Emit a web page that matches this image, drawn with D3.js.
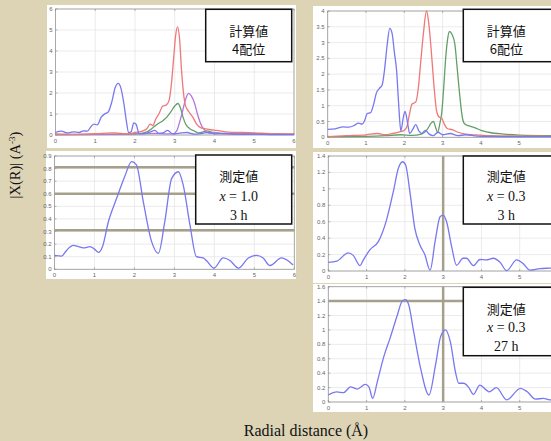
<!DOCTYPE html>
<html lang="ja">
<head>
<meta charset="utf-8">
<title>EXAFS radial distribution</title>
<script src="https://cdn.jsdelivr.net/npm/d3@7/dist/d3.min.js"></script>
<style>
  html, body { margin: 0; padding: 0; background: #ddd4b6; }
  svg { display: block; }
  .tick-label { font-family: "Liberation Sans", Arial, sans-serif; font-size: 6px; fill: #666; }
</style>
</head>
<body>
<svg id="chart" width="551" height="441"></svg>
<script>
// ---- data ----
const xTicks = [0, 1, 2, 3, 4, 5, 6];

// computed, 4-coordinate
const calc4Blue = [[0,0.12],[0.15,0.18],[0.3,0.1],[0.45,0.15],[0.6,0.12],[0.7,0.2],[0.8,0.18],[0.9,0.42],[0.97,0.52],[1.05,0.48],[1.15,0.85],[1.25,1.02],[1.32,1.08],[1.42,1.6],[1.5,2.25],[1.58,2.46],[1.65,2.2],[1.72,1.5],[1.78,0.7],[1.84,0.12],[1.9,0.15],[1.97,0.58],[2.03,0.5],[2.1,0.08],[2.2,0.05],[2.35,0.12],[2.5,0.22],[2.6,0.08],[2.7,0.1],[2.82,0.22],[2.95,0.05],[3.1,0.08],[3.3,0.12],[3.5,0.04],[3.7,0.08],[3.85,0.12],[4.0,0.05],[4.3,0.08],[4.6,0.03],[5,0.04],[5.5,0.02],[6,0.02]];
const calc4Red = [[0,0.05],[0.5,0.03],[1.0,0.06],[1.5,0.1],[1.8,0.05],[2.0,0.12],[2.2,0.2],[2.3,0.3],[2.38,0.52],[2.45,0.45],[2.52,0.75],[2.6,1.0],[2.7,1.38],[2.78,1.42],[2.85,1.6],[2.92,2.5],[2.97,3.6],[3.02,4.7],[3.07,5.15],[3.12,4.6],[3.17,3.1],[3.22,2.0],[3.27,1.4],[3.35,1.12],[3.45,0.86],[3.55,0.52],[3.65,0.35],[3.75,0.3],[3.9,0.25],[4.05,0.22],[4.35,0.14],[4.7,0.12],[5.0,0.1],[5.5,0.06],[6,0.05]];
const calc4Green = [[0,0.02],[1.5,0.03],[2.0,0.05],[2.3,0.15],[2.45,0.35],[2.55,0.5],[2.7,0.68],[2.8,0.85],[2.9,1.1],[3.0,1.38],[3.08,1.5],[3.15,1.25],[3.2,0.9],[3.28,0.5],[3.38,0.3],[3.5,0.18],[3.6,0.1],[3.72,0.15],[3.8,0.2],[3.95,0.12],[4.2,0.08],[5,0.05],[6,0.03]];
const calc4Purple = [[0,0.02],[1.0,0.03],[2.0,0.05],[2.5,0.08],[2.8,0.05],[2.95,0.05],[3.05,0.2],[3.12,0.6],[3.18,1.0],[3.25,1.55],[3.3,1.85],[3.35,1.98],[3.42,1.85],[3.5,1.5],[3.57,1.0],[3.64,0.6],[3.72,0.3],[3.82,0.12],[3.9,0.08],[4.0,0.12],[4.2,0.06],[5,0.04],[6,0.03]];

// computed, 6-coordinate
const calc6Blue = [[0,0.25],[0.2,0.27],[0.4,0.33],[0.55,0.32],[0.7,0.38],[0.8,0.45],[0.9,0.42],[0.97,0.55],[1.03,0.75],[1.12,0.78],[1.2,1.05],[1.27,1.4],[1.35,1.55],[1.42,1.65],[1.48,2.1],[1.55,2.9],[1.62,3.45],[1.68,3.3],[1.74,2.7],[1.8,2.1],[1.85,1.1],[1.91,0.2],[1.97,0.6],[2.02,0.82],[2.08,0.5],[2.14,0.12],[2.22,0.25],[2.3,0.4],[2.38,0.2],[2.45,0.12],[2.55,0.22],[2.65,0.1],[2.75,0.05],[2.88,0.16],[3.0,0.08],[3.2,0.12],[3.4,0.05],[3.6,0.08],[3.9,0.04],[4.3,0.03],[5,0.02],[6,0.02]];
const calc6Red = [[0,0.02],[0.5,0.05],[1.0,0.08],[1.3,0.12],[1.5,0.08],[1.7,0.12],[1.9,0.18],[2.0,0.22],[2.07,0.35],[2.13,0.7],[2.2,1.05],[2.3,1.12],[2.37,1.6],[2.43,2.4],[2.5,3.3],[2.58,4.0],[2.64,3.6],[2.7,2.8],[2.77,1.7],[2.84,0.85],[2.9,0.65],[2.98,0.6],[3.05,0.4],[3.12,0.28],[3.25,0.24],[3.4,0.16],[3.6,0.1],[3.8,0.08],[4.2,0.05],[5,0.04],[6,0.03]];
const calc6Green = [[0,0.02],[1,0.03],[1.5,0.05],[1.9,0.08],[2.2,0.06],[2.45,0.1],[2.6,0.25],[2.7,0.45],[2.76,0.5],[2.82,0.3],[2.87,0.15],[2.93,0.45],[2.98,0.8],[3.03,1.6],[3.08,2.5],[3.13,3.1],[3.18,3.35],[3.25,3.25],[3.32,2.95],[3.38,2.2],[3.45,1.3],[3.52,0.6],[3.58,0.42],[3.7,0.36],[3.85,0.3],[4.0,0.22],[4.2,0.16],[4.6,0.1],[5,0.07],[6,0.05]];

// measured
const meas10h3 = [[0,0.11],[0.18,0.105],[0.3,0.15],[0.47,0.19],[0.6,0.18],[0.72,0.17],[0.89,0.18],[1.0,0.16],[1.1,0.135],[1.2,0.18],[1.35,0.38],[1.55,0.56],[1.76,0.74],[1.93,0.855],[2.05,0.83],[2.22,0.54],[2.43,0.22],[2.6,0.127],[2.76,0.38],[2.93,0.72],[3.1,0.775],[3.22,0.67],[3.39,0.35],[3.55,0.1],[3.72,0.09],[3.8,0.07],[3.99,0.01],[4.22,0.09],[4.39,0.07],[4.6,0.01],[4.85,0.09],[5.05,0.11],[5.22,0.09],[5.39,0.03],[5.68,0.09],[5.97,0.035]];
const meas03h3 = [[0,0.105],[0.22,0.12],[0.52,0.22],[0.65,0.19],[0.83,0.065],[0.91,0.13],[1.09,0.26],[1.31,0.36],[1.52,0.62],[1.7,0.97],[1.83,1.25],[1.94,1.33],[2.02,1.29],[2.13,0.97],[2.26,0.52],[2.39,0.32],[2.52,0.2],[2.66,0.01],[2.79,0.36],[2.92,0.66],[3.0,0.68],[3.09,0.6],[3.22,0.3],[3.35,0.07],[3.52,0.155],[3.61,0.155],[3.79,0.065],[3.96,0.14],[4.13,0.135],[4.31,0.155],[4.48,0.11],[4.66,0.005],[4.92,0.135],[5.09,0.09],[5.27,0.01],[5.53,0.03],[5.79,0.035],[6,0.04]];
const meas03h27 = [[0,0.097],[0.22,0.14],[0.4,0.13],[0.58,0.21],[0.75,0.18],[0.97,0.245],[1.06,0.21],[1.16,0.05],[1.28,0.28],[1.45,0.63],[1.61,0.88],[1.8,1.2],[1.93,1.4],[2.01,1.42],[2.1,1.35],[2.23,0.975],[2.41,0.47],[2.63,0.097],[2.8,0.51],[2.93,0.9],[3.06,1.0],[3.19,0.83],[3.32,0.42],[3.41,0.26],[3.54,0.26],[3.67,0.2],[3.79,0.107],[3.96,0.235],[4.13,0.165],[4.2,0.14],[4.39,0.2],[4.66,0.03],[5.02,0.19],[5.19,0.145],[5.41,0.04],[5.62,0.05],[5.79,0.03],[6,0.04]];

const yTicks4 = [0, 1, 2, 3, 4, 5, 6];
const yTicks6 = [0, 0.5, 1, 1.5, 2, 2.5, 3, 3.5, 4];
const yTicksM10 = [0, 0.1, 0.2, 0.3, 0.4, 0.5, 0.6, 0.7, 0.8, 0.9];
const yTicksM03a = [0, 0.2, 0.4, 0.6, 0.8, 1, 1.2, 1.4];
const yTicksM03b = [0, 0.2, 0.4, 0.6, 0.8, 1, 1.2, 1.4, 1.6];

const labels4 = ["計算値", "4配位"];
const labels6 = ["計算値", "6配位"];
const labelsM10 = ["測定値", "x = 1.0", "3 h"];
const labelsM03a = ["測定値", "x = 0.3", "3 h"];
const labelsM03b = ["測定値", "x = 0.3", "27 h"];

const refH_M10 = [0.81, 0.6, 0.31];
const refH_M03b = [1.4];
const refV_M03 = [3];

// ---- colours ----
const cBlue = "#7878f0", cRed = "#ef7878", cGreen = "#63a065", cPurple = "#b278dc";

// ---- panels ----
const panels = [
  { fig: [47, 5, 249, 143], plot: [55.5, 9, 294, 135], yMax: 6, yTicks: yTicks4,
    series: [[calc4Green, cGreen], [calc4Purple, cPurple], [calc4Red, cRed], [calc4Blue, cBlue]],
    box: [205.7, 9.3, 86, 52.4], labels: labels4, lineY: [35.5, 53.5], sans: true },
  { fig: [313, 6, 250, 142], plot: [327.7, 11, 557.5, 137.3], yMax: 4, yTicks: yTicks6,
    series: [[calc6Green, cGreen], [calc6Red, cRed], [calc6Blue, cBlue]],
    box: [463.3, 9.3, 92, 52.4], labels: labels6, lineY: [35.5, 53.5], sans: true },
  { fig: [46, 151, 250, 128], plot: [54.5, 156, 294.3, 269.3], yMax: 0.9, yTicks: yTicksM10,
    series: [[meas10h3, cBlue]], refH: refH_M10,
    box: [195.7, 155, 96, 69], labels: labelsM10, lineY: [181, 200.5, 220] },
  { fig: [313, 152, 250, 131], plot: [328.3, 156, 558, 271], yMax: 1.4, yTicks: yTicksM03a,
    series: [[meas03h3, cBlue]], refV: refV_M03,
    box: [463.3, 156, 92, 68], labels: labelsM03a, lineY: [181, 201, 220] },
  { fig: [313, 284, 250, 128], plot: [328.3, 286.7, 558, 402], yMax: 1.6, yTicks: yTicksM03b,
    series: [[meas03h27, cBlue]], refV: refV_M03, refH: refH_M03b,
    box: [463.3, 287.3, 92, 68.4], labels: labelsM03b, lineY: [313.5, 331.5, 351] }
];

const svg = d3.select("#chart");
const W = +svg.attr("width");

panels.forEach(p => {
  const g = svg.append("g");
  const [x0, y0, x1, y1] = p.plot;
  const x = d3.scaleLinear().domain([0, 6]).range([x0, x1]);
  const y = d3.scaleLinear().domain([0, p.yMax]).range([y1, y0]);

  g.append("rect")
    .attr("x", p.fig[0]).attr("y", p.fig[1])
    .attr("width", p.fig[2]).attr("height", p.fig[3])
    .attr("fill", "#fff");

  // grid
  g.selectAll(".gx").data(xTicks).enter().append("line")
    .attr("x1", d => x(d)).attr("x2", d => x(d))
    .attr("y1", y0).attr("y2", y1)
    .attr("stroke", "#e2e2e2").attr("stroke-width", 0.7);
  g.selectAll(".gy").data(p.yTicks).enter().append("line")
    .attr("x1", x0).attr("x2", x1)
    .attr("y1", d => y(d)).attr("y2", d => y(d))
    .attr("stroke", "#e2e2e2").attr("stroke-width", 0.7);

  // frame
  g.append("rect")
    .attr("x", x0).attr("y", y0)
    .attr("width", x1 - x0).attr("height", y1 - y0)
    .attr("fill", "none").attr("stroke", "#9a9a9a").attr("stroke-width", 0.8);

  // tick marks
  g.selectAll(".tx").data(xTicks).enter().append("line")
    .attr("x1", d => x(d)).attr("x2", d => x(d))
    .attr("y1", y1).attr("y2", y1 - 2)
    .attr("stroke", "#888").attr("stroke-width", 0.6);
  g.selectAll(".tx2").data(xTicks).enter().append("line")
    .attr("x1", d => x(d)).attr("x2", d => x(d))
    .attr("y1", y0).attr("y2", y0 + 2)
    .attr("stroke", "#888").attr("stroke-width", 0.6);
  g.selectAll(".ty").data(p.yTicks).enter().append("line")
    .attr("x1", x0).attr("x2", x0 + 2)
    .attr("y1", d => y(d)).attr("y2", d => y(d))
    .attr("stroke", "#888").attr("stroke-width", 0.6);

  // tick labels (those past the window edge are not shown, as in the original)
  g.selectAll(".lx").data(xTicks.filter(d => x(d) < W - 4)).enter().append("text")
    .attr("class", "tick-label")
    .attr("x", d => x(d)).attr("y", y1 + 8)
    .attr("text-anchor", "middle")
    .text(d => d);
  g.selectAll(".ly").data(p.yTicks).enter().append("text")
    .attr("class", "tick-label")
    .attr("x", x0 - 3).attr("y", d => y(d) + 2)
    .attr("text-anchor", "end")
    .text(d => d3.format("~g")(d));

  // reference lines
  (p.refH || []).forEach(v => {
    g.append("line")
      .attr("x1", x0).attr("x2", x1)
      .attr("y1", y(v)).attr("y2", y(v))
      .attr("stroke", "#a59f8c").attr("stroke-width", 2.5);
  });
  (p.refV || []).forEach(v => {
    g.append("line")
      .attr("x1", x(v)).attr("x2", x(v))
      .attr("y1", y0).attr("y2", y1)
      .attr("stroke", "#a59f8c").attr("stroke-width", 2.5);
  });

  // curves
  const line = d3.line()
    .x(d => x(d[0])).y(d => y(d[1]))
    .curve(d3.curveMonotoneX);
  p.series.forEach(([data, col]) => {
    g.append("path")
      .attr("d", line(data))
      .attr("fill", "none")
      .attr("stroke", col)
      .attr("stroke-width", 1.3);
  });

  // label box
  const [bx, by, bw, bh] = p.box;
  g.append("rect")
    .attr("x", bx).attr("y", by).attr("width", bw).attr("height", bh)
    .attr("fill", "#fff").attr("stroke", "#111").attr("stroke-width", 1.5);
  const cx = bx + 43;
  p.labels.forEach((t, i) => {
    const tx = g.append("text")
      .attr("x", cx).attr("y", p.lineY[i])
      .attr("text-anchor", "middle")
      .attr("fill", "#111");
    if (p.sans) {
      tx.attr("font-family", "'Noto Sans CJK JP', sans-serif").attr("font-size", 13).text(t);
    } else if (i === 0) {
      tx.attr("font-family", "'Noto Sans CJK JP', serif").attr("font-size", 13).text(t);
    } else if (t.startsWith("x")) {
      tx.attr("font-family", "'Liberation Serif', serif").attr("font-size", 14);
      tx.append("tspan").attr("font-style", "italic").text("x");
      tx.append("tspan").text(t.slice(1));
    } else {
      tx.attr("font-family", "'Liberation Serif', serif").attr("font-size", 14).text(t);
    }
  });
});

// axis titles
svg.append("text")
  .attr("x", 306).attr("y", 436)
  .attr("text-anchor", "middle")
  .attr("font-family", "'Liberation Serif', serif")
  .attr("font-size", 16)
  .attr("fill", "#111")
  .text("Radial distance (Å)");

const yt = svg.append("text")
  .attr("transform", "translate(20,165) rotate(-90)")
  .attr("text-anchor", "middle")
  .attr("font-family", "'Liberation Serif', serif")
  .attr("font-size", 14.5)
  .attr("fill", "#111");
yt.append("tspan").text("|X(R)| (A");
yt.append("tspan").attr("baseline-shift", "super").attr("font-size", 9).text("-3");
yt.append("tspan").text(")");
</script>
</body>
</html>
